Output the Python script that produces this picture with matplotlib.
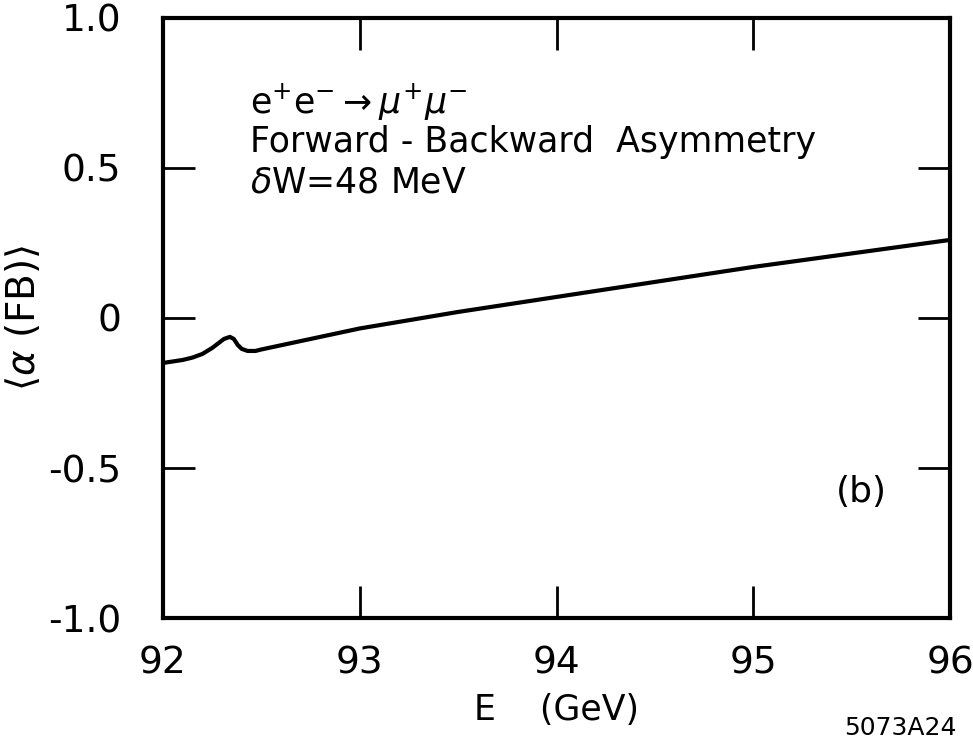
import matplotlib
matplotlib.use("Agg")
import matplotlib.pyplot as plt

# Data
energy = [92.0, 92.1, 92.15, 92.2, 92.25, 92.28, 92.31, 92.34, 92.36, 92.38, 92.4,
          92.43, 92.47, 92.5, 93.0, 93.5, 94.0, 94.5, 95.0, 95.5, 96.0]
asym = [-0.15, -0.14, -0.132, -0.12, -0.1, -0.085, -0.07, -0.063, -0.07, -0.09, -0.103,
        -0.11, -0.11, -0.105, -0.035, 0.02, 0.07, 0.12, 0.17, 0.215, 0.26]
xticks = [92, 93, 94, 95, 96]
xticklabels = ["92", "93", "94", "95", "96"]
yticks = [-1.0, -0.5, 0.0, 0.5, 1.0]
yticklabels = ["-1.0", "-0.5", "0", "0.5", "1.0"]

plt.rcParams['font.family'] = ['DejaVu Sans']
fig = plt.figure(figsize=(9.73, 7.42), dpi=100)
ax = fig.add_axes([0.1675, 0.167, 0.809, 0.809])

ax.plot(energy, asym, color='black', lw=3, solid_joinstyle='round')
ax.set_xlim(92, 96)
ax.set_ylim(-1.0, 1.0)
ax.set_xticks(xticks)
ax.set_xticklabels(xticklabels)
ax.set_yticks(yticks)
ax.set_yticklabels(yticklabels)
ax.tick_params(direction='in', length=23, width=2, labelsize=27,
               top=True, right=True)
ax.tick_params(axis='x', pad=20)
ax.tick_params(axis='y', pad=30)
for s in ax.spines.values():
    s.set_linewidth(3)

ax.set_xlabel('E    (GeV)', fontsize=25, labelpad=8)
ax.set_ylabel(r'$\langle\alpha\ (\mathrm{FB})\rangle$', fontsize=28, labelpad=4)

ax.text(92.44, 0.72, r'e$^{+}$e$^{-}$$\rightarrow$$\mu^{+}\mu^{-}$', fontsize=25, va='center')
ax.text(92.44, 0.585, 'Forward - Backward  Asymmetry', fontsize=25, va='center')
ax.text(92.44, 0.45, r'$\delta$W=48 MeV', fontsize=25, va='center')
ax.text(95.55, -0.58, '(b)', fontsize=26, va='center', ha='center')

fig.text(0.925, 0.003, '5073A24', fontsize=18, ha='center', va='bottom')

fig.savefig('out.png', dpi=100)
